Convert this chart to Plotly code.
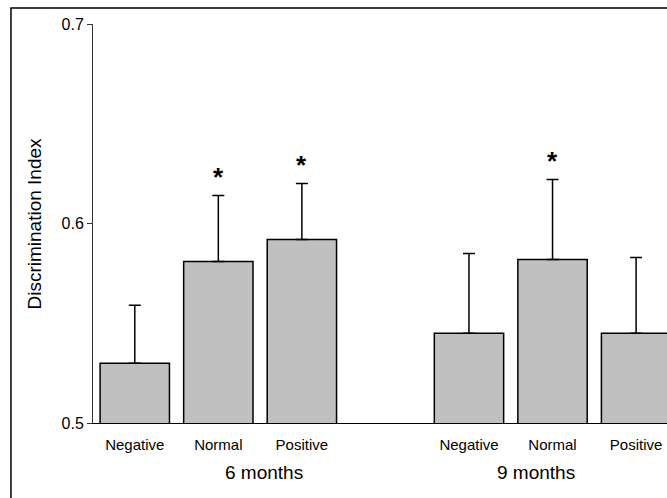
import plotly.graph_objects as go

# ---- data ----
groups = ["6 months", "9 months"]
categories = ["Negative", "Normal", "Positive"]
means = [0.530, 0.581, 0.592, 0.545, 0.582, 0.545]
errors = [0.029, 0.033, 0.028, 0.040, 0.040, 0.038]
significant = [False, True, True, False, True, False]
y_ticks = [0.5, 0.6, 0.7]

FONT = "Liberation Sans, Arial, Helvetica, sans-serif"

# bar positions: each group of 3 separated by one empty slot
xpos = []
labels = []
for g, _ in enumerate(groups):
    for i, c in enumerate(categories):
        xpos.append(g * (len(categories) + 1) + i)
        labels.append(c)

fig = go.Figure()
fig.add_trace(go.Bar(
    x=xpos, y=means, width=0.83,
    marker=dict(color="#c0c0c0", line=dict(color="black", width=1.5)),
    error_y=dict(type="data", array=errors, arrayminus=[0] * len(errors),
                 symmetric=False, color="black", thickness=1.5, width=6),
    showlegend=False, hoverinfo="skip",
))

annotations = []
for x, m, e, s in zip(xpos, means, errors, significant):
    if s:
        annotations.append(dict(x=x, y=m + e, xref="x", yref="y", text="<b>*</b>",
                                showarrow=False, yanchor="bottom", yshift=2,
                                font=dict(family=FONT, size=26, color="black")))

group_centers = [1.55, 4.8]
for gx, gname in zip(group_centers, groups):
    annotations.append(dict(x=gx, y=0, xref="x", yref="paper", text=gname,
                            showarrow=False, yanchor="middle", yshift=-49,
                            font=dict(family=FONT, size=19, color="black")))

annotations.append(dict(x=0, y=0.5, xref="paper", yref="paper",
                        text="Discrimination Index", textangle=-90,
                        showarrow=False, xanchor="center", yanchor="middle",
                        xshift=-59, font=dict(family=FONT, size=19, color="black")))

fig.update_layout(
    width=667, height=498, autosize=False,
    margin=dict(l=93, r=0, t=24, b=75),
    paper_bgcolor="white", plot_bgcolor="white",
    font=dict(family=FONT, color="black"),
    annotations=annotations,
    shapes=[dict(type="rect", xref="paper", yref="paper",
                 x0=-0.1429, x1=1.2, y0=-0.4, y1=1.0401,
                 line=dict(color="black", width=1.5), fillcolor="rgba(0,0,0,0)")],
    bargap=0.17,
)
fig.update_xaxes(
    range=[-0.5, 6.37], tickvals=xpos, ticktext=labels, ticks="",
    showline=True, linecolor="black", linewidth=1, showgrid=False, zeroline=False,
    tickfont=dict(family=FONT, size=15, color="black"), ticklabelstandoff=8,
)
fig.update_yaxes(
    range=[0.5, 0.7], tickvals=y_ticks, ticktext=[f"{v:.1f}" for v in y_ticks],
    ticks="outside", ticklen=5, tickcolor="#333", tickwidth=1,
    showline=True, linecolor="#333", linewidth=1, showgrid=False, zeroline=False,
    tickfont=dict(family=FONT, size=16, color="black"),
)

fig.write_html("out.html")
